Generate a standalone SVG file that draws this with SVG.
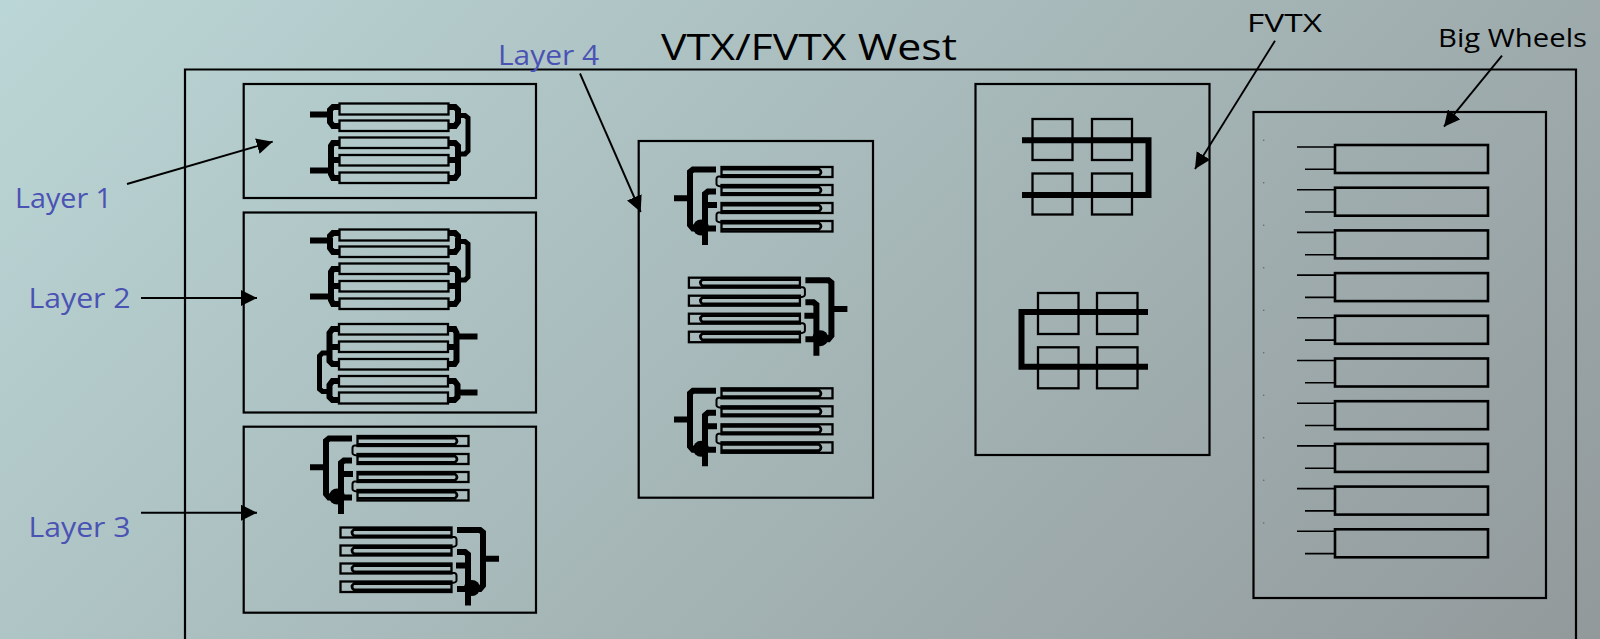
<svg xmlns="http://www.w3.org/2000/svg" width="1600" height="639" viewBox="0 0 1600 639">
<style>
.box{fill:none;stroke:#000;stroke-width:2.2}
.st{fill:none;stroke:#000;stroke-width:2.3}
.th{fill:none;stroke:#000;stroke-width:6}
.tn{fill:none;stroke:#000;stroke-width:2}
.ar{fill:none;stroke:#000;stroke-width:1.9}
text{font-family:"Open Sans","DejaVu Sans",sans-serif}
.blue{fill:#4a52b4;font-size:28px}
.blk{fill:#000;font-size:26px}
</style>
<defs>
<linearGradient id="bg" gradientUnits="userSpaceOnUse" x1="0" y1="0" x2="1120" y2="1120"><stop offset="0" stop-color="#bbd6d6"/><stop offset="1" stop-color="#92999b"/></linearGradient>
<marker id="head" markerUnits="userSpaceOnUse" markerWidth="18" markerHeight="16" refX="16" refY="8" orient="auto"><path d="M0,0 L16,8 L0,16 Z" fill="#000"/></marker>
<g id="modA">
<rect class="st" x="339.500" y="103.500" width="109" height="11"/>
<rect class="st" x="339.500" y="120.500" width="109" height="10.500"/>
<rect class="st" x="339.500" y="137.500" width="109" height="10.500"/>
<rect class="st" x="339.500" y="155" width="109" height="10.500"/>
<rect class="st" x="339.500" y="172.500" width="109" height="10.500"/>
<path class="th" d="M339,107 H333 L330,110 V122 L333,126 H339M448,107 H455 L458,110 V122 L455,126 H448M339,143 H333 L331,146 V174 L333,178 H339M331,160 H339M448,143 H455 L458,146 V174 L455,178 H448M448,160 H458"/>
<path class="th" d="M310,114.500 H330M310,170.500 H331"/>
<path class="th" style="stroke-width:5" d="M458,115.500 H465 L468,118 V151 L465,154 H458"/>
</g>
<g id="modB">
<rect class="st" x="357.500" y="436" width="111" height="10"/>
<rect class="st" x="357.500" y="454" width="111" height="10"/>
<rect class="st" x="357.500" y="472" width="111" height="10"/>
<rect class="st" x="357.500" y="490" width="111" height="10.500"/>
<path fill="none" stroke="#000" stroke-width="2.800" d="M357,438 H455 Q459,441.100 455,444.300 H357M357,456 H455 Q459,459.100 455,462.300 H357M357,474 H455 Q459,477.100 455,480.300 H357M357,492 H455 Q459,495.100 455,498.300 H357"/>
<path class="tn" d="M357,445.500 H354.500 Q352.500,446 352.500,448 V453 Q352.500,455 357,455.500M357,481.500 H354.500 Q352.500,482 352.500,484 V489 Q352.500,491 357,491.500"/>
<path class="th" d="M352,438.500 H329 L326,441 V494 L329,497.500 H352M352,460.500 H344 L341,463 V497M341,474 H353"/>
<path class="th" d="M310,467.300 H326M341,497 V514"/>
<circle cx="337" cy="496.500" r="8"/>
</g>
</defs>
<rect id="background" width="1600" height="639" fill="url(#bg)"/>
<g id="frame"><path class="box" d="M185,639 V69.500 H1576 V639"/></g>
<g id="title"><text x="661" y="60" font-size="37" textLength="296" lengthAdjust="spacingAndGlyphs" style="fill:#000">VTX/FVTX West</text></g>
<g id="layer1"><rect class="box" x="243.700" y="84" width="292.300" height="114"/><use href="#modA"/><text class="blue" x="15" y="208" textLength="97" lengthAdjust="spacingAndGlyphs">Layer 1</text></g>
<g id="layer2"><rect class="box" x="243.700" y="212.500" width="292.300" height="200"/><use href="#modA" transform="translate(0,126)"/><use href="#modA" transform="translate(787.500,507) rotate(180)"/><text class="blue" x="28.500" y="308" textLength="102" lengthAdjust="spacingAndGlyphs">Layer 2</text></g>
<g id="layer3"><rect class="box" x="243.700" y="426.700" width="292.300" height="186"/><use href="#modB"/><use href="#modB" transform="translate(809,91.500) scale(-1,1)"/><text class="blue" x="28.500" y="537" textLength="102" lengthAdjust="spacingAndGlyphs">Layer 3</text></g>
<g id="layer4"><rect class="box" x="638.700" y="141" width="234.300" height="356.700"/><use href="#modB" transform="translate(364,-269)"/><use href="#modB" transform="translate(1157.400,-158.300) scale(-1,1)"/><use href="#modB" transform="translate(364,-47.700)"/><text class="blue" x="498" y="65" textLength="101" lengthAdjust="spacingAndGlyphs">Layer 4</text></g>
<g id="fvtx"><rect class="box" x="975.500" y="84" width="234" height="371"/>
<rect class="st" x="1032.500" y="119" width="40" height="41"/><rect class="st" x="1092" y="119" width="40" height="41"/><rect class="st" x="1032.500" y="173.500" width="40" height="41"/><rect class="st" x="1092" y="173.500" width="40" height="41"/>
<path class="th" d="M1022,140.300 H1148.500 V195 H1022"/>
<rect class="st" x="1038" y="293" width="40.500" height="41"/><rect class="st" x="1097" y="293" width="40.500" height="41"/><rect class="st" x="1038" y="347.300" width="40.500" height="41"/><rect class="st" x="1097" y="347.300" width="40.500" height="41"/>
<path class="th" d="M1148,312 H1021.500 V366.700 H1148"/>
<text class="blk" x="1247" y="32" textLength="75" lengthAdjust="spacingAndGlyphs">FVTX</text></g>
<g id="bigwheels"><rect class="box" x="1253.500" y="112" width="292.500" height="486"/>
<path fill="none" stroke="#000" stroke-width="1.600" d="M1297,147H1335M1305,169.300H1335M1297,189.700H1335M1305,212H1335M1297,232.400H1335M1305,254.700H1335M1297,275.100H1335M1305,297.400H1335M1297,317.800H1335M1305,340.100H1335M1297,360.500H1335M1305,382.800H1335M1297,403.200H1335M1305,425.500H1335M1297,445.900H1335M1305,468.200H1335M1297,488.600H1335M1305,510.900H1335M1297,531.300H1335M1305,553.600H1335"/>
<g fill="none" stroke="#000" stroke-width="2.600">
<rect x="1335" y="145" width="153" height="28"/><rect x="1335" y="187.700" width="153" height="28"/><rect x="1335" y="230.400" width="153" height="28"/><rect x="1335" y="273.100" width="153" height="28"/><rect x="1335" y="315.800" width="153" height="28"/><rect x="1335" y="358.500" width="153" height="28"/><rect x="1335" y="401.200" width="153" height="28"/><rect x="1335" y="443.900" width="153" height="28"/><rect x="1335" y="486.600" width="153" height="28"/><rect x="1335" y="529.300" width="153" height="28"/>
</g>
<g fill="#666"><circle cx="1263.700" cy="140.300" r=".8"/><circle cx="1263.700" cy="182.800" r=".8"/><circle cx="1263.700" cy="225.300" r=".8"/><circle cx="1263.700" cy="267.800" r=".8"/><circle cx="1263.700" cy="310.300" r=".8"/><circle cx="1263.700" cy="352.800" r=".8"/><circle cx="1263.700" cy="395.300" r=".8"/><circle cx="1263.700" cy="437.800" r=".8"/><circle cx="1263.700" cy="480.300" r=".8"/><circle cx="1263.700" cy="523" r=".8"/></g>
<text class="blk" x="1438" y="47" textLength="149" lengthAdjust="spacingAndGlyphs">Big Wheels</text></g>
<g id="connectors">
<line class="ar" x1="127" y1="184" x2="272.700" y2="141.700" marker-end="url(#head)"/>
<line class="ar" x1="141" y1="298" x2="257" y2="298" marker-end="url(#head)"/>
<line class="ar" x1="141" y1="512.700" x2="257" y2="512.700" marker-end="url(#head)"/>
<line class="ar" x1="580" y1="73.500" x2="640.700" y2="212" marker-end="url(#head)"/>
<line class="ar" x1="1275" y1="40.700" x2="1195" y2="169" marker-end="url(#head)"/>
<line class="ar" x1="1502" y1="55.700" x2="1444" y2="126.700" marker-end="url(#head)"/>
</g>
</svg>
